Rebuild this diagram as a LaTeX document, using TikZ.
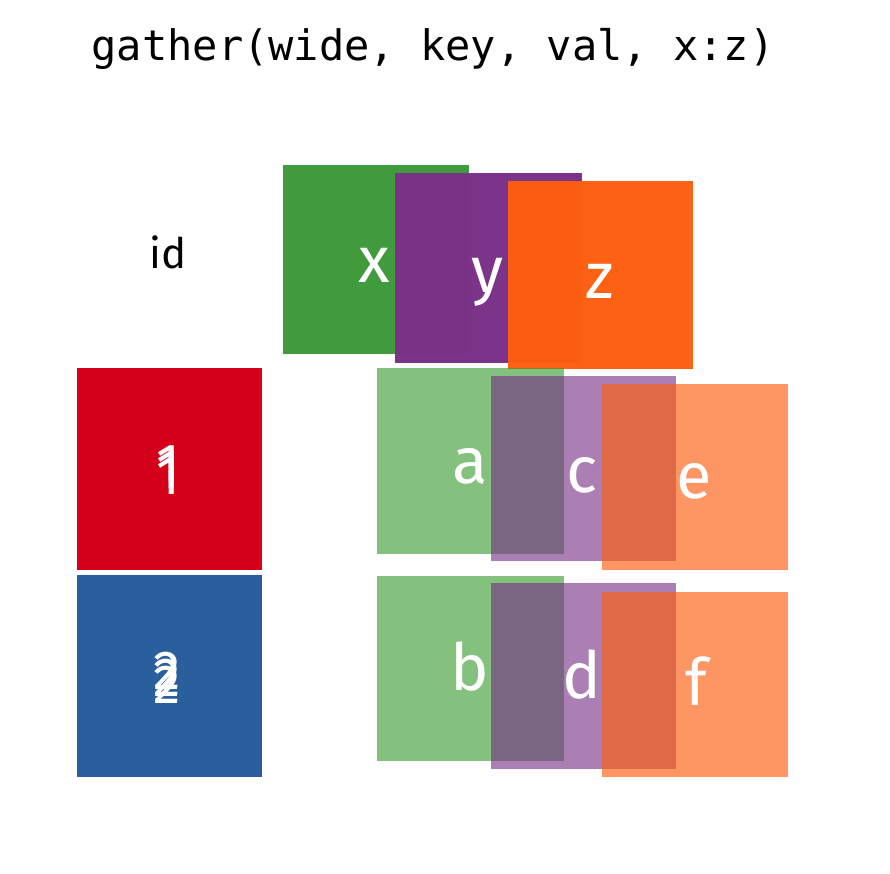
\documentclass[tikz,border=0pt]{standalone}
\usepackage{fontspec}
\setmainfont{Fira Sans}
\newfontfamily\titlemono{DejaVu Sans Mono}
\definecolor{cred}{HTML}{D40019}
\definecolor{cblue}{HTML}{2A5F9E}
\definecolor{cgreen}{HTML}{3D9A3A}
\definecolor{cgreencell}{HTML}{32982A}
\definecolor{cpurpletop}{HTML}{7A3088}
\definecolor{cpurple}{HTML}{762A83}
\definecolor{corange}{HTML}{FD5E0F}
\tikzset{
  solidbox/.style={fill=#1},
  topbox/.style={fill=#1, fill opacity=0.98},
  cellbox/.style={fill=#1, fill opacity=0.6},
  orangecell/.style={fill=corange, fill opacity=0.65},
  lbl/.style={text=white, anchor=base, inner sep=0pt, font=\fontsize{65}{65}\selectfont},
  digit/.style={text=white, anchor=base, inner sep=0pt, font=\fontsize{55}{55}\selectfont},
  titletext/.style={anchor=base, inner sep=0pt, font=\titlemono\fontsize{42}{42}\selectfont},
  idtext/.style={anchor=base, inner sep=0pt, font=\fontsize{42}{42}\selectfont}
}
\begin{document}
\begin{tikzpicture}[x=1pt,y=-1pt]
\useasboundingbox[fill=white] (0,0) rectangle (890,873);
% title
\node[titletext] (title) at (433,60) {gather(wide, key, val, x:z)};
% id column
\node[idtext] (id) at (168,268) {id};
\path[solidbox=cred] (77,368) rectangle (262,570);
\path[solidbox=cblue] (77,575) rectangle (262,777);
\node[digit] (one1) at (168,482) {1};
\node[digit] (one2) at (168,488) {1};
\node[digit] (one3) at (168,494) {1};
\node[digit] (two1) at (167,689) {2};
\node[digit] (two2) at (167,696) {2};
\node[digit] (two3) at (167,703) {2};
% key headers
\path[topbox=cgreen] (283,165) rectangle (469,354);
\node[lbl] (lx) at (374,282) {x};
\path[topbox=cpurpletop] (395,173) rectangle (582,363);
\node[lbl] (ly) at (487,292) {y};
\path[topbox=corange] (508,181) rectangle (693,369);
\node[lbl] (lz) at (600,298) {z};
% values row 1
\path[cellbox=cgreencell] (377,368) rectangle (564,554);
\node[lbl] (la) at (470,483) {a};
\path[cellbox=cpurple] (491,376) rectangle (676,561);
\node[lbl] (lc) at (582,492) {c};
\path[orangecell] (602,384) rectangle (788,570);
\node[lbl] (le) at (694,498) {e};
% values row 2
\path[cellbox=cgreencell] (377,576) rectangle (564,761);
\node[lbl] (lb) at (470,690) {b};
\path[cellbox=cpurple] (491,583) rectangle (676,769);
\node[lbl] (ld) at (582,698) {d};
\path[orangecell] (602,592) rectangle (788,777);
\node[lbl] (lf) at (696,705) {f};
\end{tikzpicture}
\end{document}
